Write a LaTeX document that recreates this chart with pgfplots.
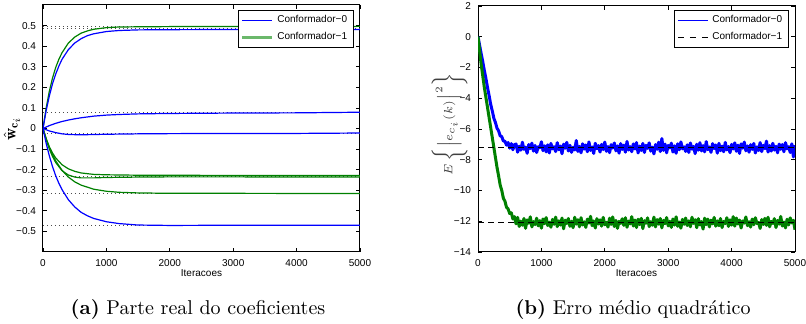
\documentclass[border=0pt]{standalone}
\usepackage{pgfplots}
\pgfplotsset{compat=1.18}
\usepackage{pgfplotstable}
\usepackage{fontspec}
\newfontfamily\helv{Liberation Sans}
\definecolor{mblue}{rgb}{0,0,1}
\definecolor{mgreen}{rgb}{0,0.5,0}
\definecolor{lgreen}{rgb}{0.42,0.72,0.42}

\pgfplotstableread{
k b g
0 0 0
25 -0.55 -0.90
50 -1.10 -1.80
75 -1.62 -2.55
100 -2.20 -3.30
125 -2.72 -3.95
150 -3.30 -4.60
175 -3.82 -5.25
200 -4.40 -5.90
225 -4.82 -6.55
250 -5.30 -7.20
275 -5.58 -7.85
300 -5.95 -8.50
325 -6.12 -9.05
350 -6.45 -9.65
375 -6.50 -10.00
400 -6.78 -10.50
425 -6.80 -10.70
450 -7.05 -11.10
475 -6.88 -11.20
500 -7.25 -11.50
525 -6.95 -11.45
550 -7.35 -11.85
575 -7.02 -11.70
600 -6.98 -12.17
625 -7.51 -11.75
650 -7.12 -12.34
675 -7.38 -11.99
700 -6.86 -12.26
725 -7.32 -11.82
750 -7.18 -12.46
775 -7.58 -11.91
800 -7.01 -12.13
825 -7.27 -11.71
850 -6.92 -12.37
875 -7.44 -12.02
900 -7.07 -12.22
925 -7.53 -11.80
950 -7.15 -12.30
975 -7.22 -11.96
1000 -6.83 -12.45
1025 -7.41 -11.85
1050 -7.09 -12.16
1075 -7.49 -11.76
1100 -7.03 -12.28
1125 -7.56 -12.06
1150 -6.94 -12.39
1175 -7.29 -11.88
1200 -7.16 -12.20
1225 -7.47 -11.73
1250 -6.89 -12.35
1275 -7.35 -11.97
1300 -7.11 -12.25
1325 -7.61 -11.79
1350 -6.99 -12.49
1375 -7.25 -11.93
1400 -6.87 -12.15
1425 -7.43 -11.82
1450 -7.06 -12.33
1475 -7.52 -12.00
1500 -7.19 -12.42
1525 -7.36 -11.74
1550 -6.75 -12.19
1575 -7.46 -11.90
1600 -7.13 -12.36
1625 -7.55 -11.77
1650 -6.96 -12.24
1675 -7.31 -12.04
1700 -7.04 -12.40
1725 -7.48 -11.86
1750 -6.84 -12.12
1775 -7.39 -11.68
1800 -7.17 -12.29
1825 -7.59 -11.98
1850 -6.93 -12.44
1875 -7.28 -11.83
1900 -7.08 -12.18
1925 -7.50 -11.91
1950 -7.00 -12.32
1975 -7.34 -11.75
2000 -6.85 -12.23
2025 -7.45 -12.07
2050 -7.14 -12.38
2075 -7.54 -11.80
2100 -7.02 -12.21
2125 -7.24 -11.72
2150 -6.91 -12.34
2175 -7.42 -11.95
2200 -7.10 -12.46
2225 -7.57 -12.01
2250 -6.95 -12.14
2275 -7.33 -11.84
2300 -7.05 -12.27
2325 -7.51 -11.77
2350 -6.81 -12.39
2375 -7.37 -11.99
2400 -7.15 -12.17
2425 -7.48 -11.70
2450 -6.97 -12.31
2475 -7.30 -11.92
2500 -6.88 -12.41
2525 -7.56 -11.87
2550 -7.11 -12.22
2575 -7.40 -11.81
2600 -6.94 -12.48
2625 -7.53 -11.96
2650 -7.06 -12.13
2675 -7.26 -11.78
2700 -6.90 -12.35
2725 -7.44 -12.03
2750 -7.18 -12.26
2775 -7.62 -11.73
2800 -7.01 -12.37
2825 -7.32 -11.89
2850 -6.86 -12.19
2875 -7.47 -11.82
2900 -6.62 -12.43
2925 -7.39 -11.94
2950 -6.98 -12.16
2975 -7.55 -11.76
3000 -7.07 -12.30
3025 -7.23 -12.00
3050 -6.92 -12.40
3075 -7.50 -11.85
3100 -7.09 -12.25
3125 -7.58 -11.71
3150 -6.96 -12.33
3175 -7.35 -12.05
3200 -6.84 -12.45
3225 -7.29 -11.88
3250 -7.16 -12.20
3275 -7.46 -11.79
3300 -7.03 -12.28
3325 -7.53 -11.97
3350 -6.91 -12.36
3375 -7.31 -11.74
3400 -7.13 -12.14
3425 -7.60 -11.90
3450 -6.99 -12.42
3475 -7.38 -11.83
3500 -6.89 -12.24
3525 -7.43 -12.02
3550 -7.08 -12.51
3575 -7.49 -11.80
3600 -6.82 -12.22
3625 -7.34 -11.86
3650 -7.17 -12.37
3675 -7.52 -11.93
3700 -6.95 -12.17
3725 -7.27 -11.75
3750 -7.04 -12.32
3775 -7.57 -11.98
3800 -6.93 -12.29
3825 -7.41 -11.82
3850 -7.11 -12.41
3875 -7.48 -12.01
3900 -6.87 -12.15
3925 -7.36 -11.77
3950 -7.14 -12.34
3975 -7.54 -11.91
4000 -7.00 -12.25
4025 -7.30 -11.70
4050 -6.90 -12.32
4075 -7.45 -11.79
4100 -7.05 -12.18
4125 -7.59 -11.92
4150 -6.97 -12.44
4175 -7.25 -11.98
4200 -6.85 -12.12
4225 -7.42 -11.72
4250 -7.10 -12.29
4275 -7.51 -12.03
4300 -7.02 -12.38
4325 -7.33 -11.86
4350 -6.94 -12.23
4375 -7.56 -11.77
4400 -7.16 -12.15
4425 -7.40 -12.08
4450 -6.88 -12.47
4475 -7.47 -11.89
4500 -7.06 -12.21
4525 -7.28 -11.81
4550 -6.79 -12.27
4575 -7.50 -11.74
4600 -7.08 -12.36
4625 -7.44 -12.01
4650 -6.93 -12.14
4675 -7.37 -11.83
4700 -7.13 -12.41
4725 -7.55 -11.95
4750 -6.98 -12.19
4775 -7.32 -11.69
4800 -7.01 -12.31
4825 -7.48 -12.05
4850 -6.89 -12.43
4875 -7.29 -11.87
4900 -7.15 -12.24
4925 -7.53 -11.78
4950 -6.96 -12.11
4975 -7.82 -11.94
5000 -7.05 -12.55
}\mse

\pgfplotsset{
  base/.style={
    scale only axis,
    xmin=0, xmax=5000,
    xtick={0,1000,2000,3000,4000,5000},
    xticklabels={0,1000,2000,3000,4000,5000},
    tick align=inside,
    major tick length=2pt,
    axis line style={line width=0.5pt},
    every tick/.append style={line width=0.35pt, black},
    ticklabel style={font=\helv\fontsize{5}{6}\selectfont},
    every axis x label/.style={at={(axis description cs:0.5,0)}, anchor=center, yshift=-10.5pt, font=\helv\fontsize{5}{6}\selectfont},
    xlabel={Iteracoes},
    legend cell align=left,
    legend style={font=\helv\fontsize{5}{6}\selectfont, draw=black, line width=0.5pt,
      inner xsep=1.2pt, inner ysep=0.6pt, row sep=-0.8pt,
      at={(1,1)}, anchor=north east},
    legend image code/.code={\draw[#1] (0pt,0pt) -- (15pt,0pt);},
  }
}

\begin{document}
\begin{tikzpicture}
\useasboundingbox (0,0) rectangle (403pt,-162pt);

% ---------- (a) ----------
\begin{axis}[base,
  at={(21.5pt,-126pt)}, anchor=south west,
  width=158.5pt, height=123.5pt,
  ymin=-0.6, ymax=0.6,
  ytick={-0.5,-0.4,-0.3,-0.2,-0.1,0,0.1,0.2,0.3,0.4,0.5},
  yticklabels={−0.5,−0.4,−0.3,−0.2,−0.1,0,0.1,0.2,0.3,0.4,0.5},
  every axis y label/.style={at={(axis description cs:-0.0978,0.5)}, rotate=90, anchor=center, font=\fontsize{8.5}{9}\selectfont},
  ylabel={$\hat{\mathbf{w}}_{\mathbf{c}_i}$},
  legend style={xshift=-3pt, yshift=-2.5pt},
]
\addlegendimage{mblue, line width=0.5pt}
\addlegendentry{Conformador−0}
\addlegendimage{lgreen, line width=1.1pt}
\addlegendentry{Conformador−1}

% reference levels
\addplot[black!70, line width=0.4pt, dash pattern=on 0.5pt off 1.5pt, forget plot] coordinates {(0,0.497)(5000,0.497)};
\addplot[black!70, line width=0.4pt, dash pattern=on 0.5pt off 1.5pt, forget plot] coordinates {(0,0.484)(5000,0.484)};
\addplot[black!70, line width=0.4pt, dash pattern=on 0.5pt off 1.5pt, forget plot] coordinates {(0,0.076)(5000,0.076)};
\addplot[black!70, line width=0.4pt, dash pattern=on 0.5pt off 1.5pt, forget plot] coordinates {(0,-0.024)(5000,-0.024)};
\addplot[black!70, line width=0.4pt, dash pattern=on 0.5pt off 1.5pt, forget plot] coordinates {(0,-0.232)(5000,-0.232)};
\addplot[black!70, line width=0.4pt, dash pattern=on 0.5pt off 1.5pt, forget plot] coordinates {(0,-0.314)(5000,-0.314)};
\addplot[black!70, line width=0.4pt, dash pattern=on 0.5pt off 1.5pt, forget plot] coordinates {(0,-0.470)(5000,-0.470)};

% Conformador-1 (green)
\addplot[mgreen, line width=0.6pt, forget plot] coordinates {(0,0)(50,0.100)(100,0.181)(150,0.245)(200,0.296)(250,0.336)(300,0.368)(400,0.415)(500,0.444)(600,0.463)(700,0.474)(800,0.482)(1000,0.490)(1200,0.493)(1500,0.494)(2000,0.495)(3000,0.495)(4000,0.495)(5000,0.496)};
\addplot[mgreen, line width=0.6pt, forget plot] coordinates {(0,0)(50,-0.055)(100,-0.100)(150,-0.136)(200,-0.165)(300,-0.205)(400,-0.226)(500,-0.236)(600,-0.240)(800,-0.240)(1000,-0.238)(1500,-0.236)(2000,-0.235)(3000,-0.235)(4000,-0.236)(5000,-0.236)};
\addplot[mgreen, line width=0.6pt, forget plot] coordinates {(0,0)(50,-0.050)(100,-0.089)(150,-0.119)(200,-0.143)(300,-0.176)(400,-0.196)(500,-0.208)(600,-0.216)(800,-0.223)(1000,-0.225)(1500,-0.227)(3000,-0.228)(5000,-0.228)};
\addplot[mgreen, line width=0.6pt, forget plot] coordinates {(0,0)(50,-0.049)(100,-0.092)(150,-0.127)(200,-0.157)(300,-0.203)(400,-0.236)(500,-0.259)(600,-0.275)(800,-0.295)(1000,-0.305)(1200,-0.310)(1500,-0.313)(2000,-0.315)(3000,-0.315)(5000,-0.316)};

% Conformador-0 (blue)
\addplot[mblue, line width=0.6pt, forget plot] coordinates {(0,0)(50,0.087)(100,0.158)(150,0.217)(200,0.264)(250,0.303)(300,0.336)(400,0.383)(500,0.415)(600,0.436)(700,0.451)(800,0.460)(1000,0.471)(1200,0.476)(1500,0.479)(2000,0.480)(3000,0.481)(4000,0.481)(5000,0.481)};
\addplot[mblue, line width=0.6pt, forget plot] coordinates {(0,0)(100,0.014)(200,0.025)(300,0.034)(400,0.041)(500,0.047)(600,0.052)(800,0.060)(1000,0.065)(1200,0.068)(1500,0.071)(2000,0.073)(3000,0.075)(4000,0.076)(5000,0.079)};
\addplot[mblue, line width=0.6pt, forget plot] coordinates {(0,0)(100,-0.012)(200,-0.020)(300,-0.026)(400,-0.029)(500,-0.030)(700,-0.030)(1000,-0.028)(1500,-0.026)(2000,-0.025)(3000,-0.024)(4000,-0.024)(5000,-0.022)};
\addplot[mblue, line width=0.6pt, forget plot] coordinates {(0,0)(50,-0.072)(100,-0.133)(150,-0.185)(200,-0.229)(250,-0.266)(300,-0.297)(400,-0.346)(500,-0.381)(600,-0.407)(700,-0.424)(800,-0.437)(1000,-0.453)(1200,-0.462)(1500,-0.469)(2000,-0.471)(3000,-0.470)(4000,-0.470)(5000,-0.470)};
\end{axis}

% ---------- (b) ----------
\begin{axis}[base,
  at={(239pt,-126pt)}, anchor=south west,
  width=158.5pt, height=123pt,
  ymin=-14, ymax=2,
  ytick={-14,-12,-10,-8,-6,-4,-2,0,2},
  yticklabels={−14,−12,−10,−8,−6,−4,−2,0,2},
  every axis y label/.style={at={(axis description cs:-0.09,0.52)}, rotate=90, anchor=center, font=\fontsize{6.5}{7.5}\selectfont, text=black!75},
  ylabel={$E\left\{\left|e_{c_i}(k)\right|^2\right\}$},
  legend style={xshift=-3pt, yshift=-2pt},
]
\addlegendimage{mblue, line width=0.5pt}
\addlegendentry{Conformador−0}
\addlegendimage{black, line width=0.5pt, dash pattern=on 3pt off 3pt}
\addlegendentry{Conformador−1}

\addplot[mblue, line width=1.5pt, line join=round, forget plot] table[x=k, y=b] {\mse};
\addplot[mgreen, line width=1.5pt, line join=round, forget plot] table[x=k, y=g] {\mse};
\addplot[black, line width=0.5pt, dash pattern=on 3pt off 2pt, forget plot] coordinates {(0,-7.2)(5000,-7.2)};
\addplot[black, line width=0.5pt, dash pattern=on 3pt off 2pt, forget plot] coordinates {(0,-12.1)(5000,-12.1)};
\end{axis}

% captions
\node[anchor=base, font=\fontsize{10}{12}\selectfont, inner sep=0pt] at (99pt,-157.5pt) {\textbf{(a)} Parte real do coeficientes};
\node[anchor=base, font=\fontsize{10}{12}\selectfont, inner sep=0pt] at (316.5pt,-157.5pt) {\textbf{(b)} Erro médio quadrático};
\end{tikzpicture}
\end{document}
